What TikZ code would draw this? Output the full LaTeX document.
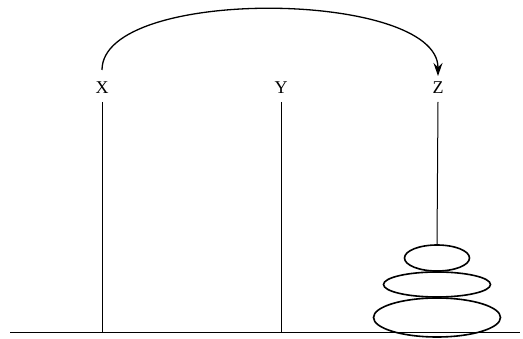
\documentclass[tikz,border=0pt]{standalone}
\usepackage{fontspec}
\setmainfont{Liberation Serif}
\usetikzlibrary{arrows.meta,shapes.geometric}
\begin{document}
\begin{tikzpicture}[x=1pt,y=-1pt,
  lbl/.style={font=\fontsize{18}{18}\selectfont, inner sep=0pt},
  ln/.style={line width=1pt},
  disk/.style={draw, ellipse, line width=1.6pt, inner sep=0pt}]
\useasboundingbox (0,0) rectangle (523,339);
\node[lbl] (X) at (102,88) {X};
\node[lbl] (Y) at (281,88) {Y};
\node[lbl] (Z) at (438,88) {Z};
\coordinate (xb) at (102,333);
\coordinate (yb) at (281,333);
\coordinate (gl) at (10,333);
\coordinate (gr) at (520,333);
\node[disk, minimum width=127pt, minimum height=39pt] (d3) at (437,317.5) {};
\node[disk, minimum width=107pt, minimum height=25pt] (d2) at (437,284.5) {};
\node[disk, minimum width=65pt, minimum height=26pt] (d1) at (437,258) {};
\draw[ln] (gl) -- (gr);
\draw[ln] (102,102) -- (xb);
\draw[ln] (281,102) -- (yb);
\draw[ln] (438,102) -- (d1.north);
\coordinate (as) at (102,70);
\coordinate (ae) at (438,76);
\draw[line width=1.3pt, -{Stealth[length=13pt,width=9pt]}] (as) .. controls (102,-14) and (438,-10) .. (ae);
\end{tikzpicture}
\end{document}
